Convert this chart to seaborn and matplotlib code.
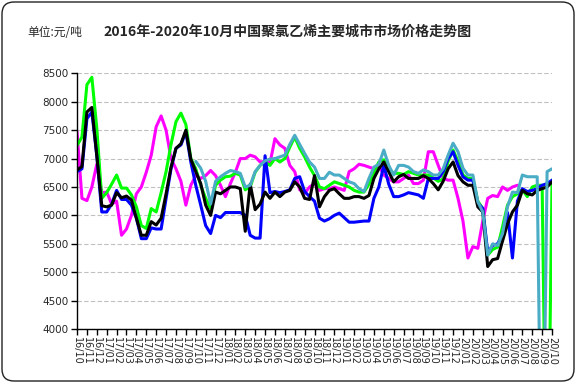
import numpy as np
import pandas as pd
import matplotlib
matplotlib.use("Agg")
import matplotlib.pyplot as plt
import seaborn as sns
from matplotlib.patches import FancyBboxPatch

nan = np.nan

# 横轴: 自2016/10起的月份, 每半个月一个点
months = np.arange(97) / 2

month_labels = [
    "16/10", "16/11", "16/12",
    "17/01", "17/02", "17/03", "17/04", "17/05", "17/06",
    "17/07", "17/08", "17/09", "17/10", "17/11", "17/12",
    "18/01", "18/02", "18/03", "18/04", "18/05", "18/06",
    "18/07", "18/08", "18/09", "18/10", "18/11", "18/12",
    "19/01", "19/02", "19/03", "19/04", "19/05", "19/06",
    "19/07", "19/08", "19/09", "19/10", "19/11", "19/12",
    "20/01", "20/02", "20/03", "20/04", "20/05", "20/06",
    "20/07", "20/08", "20/09", "20/10",
]

# 各城市价格 (元/吨)
green = [
    7230, 7380, 8300, 8430, 7530, 6300, 6400, 6550, 6710, 6480,
    6480, 6360, 6150, 5820, 5770, 6120, 6060, 6400, 6770, 7250,
    7650, 7800, 7600, 7000, 6820, 6530, 6300, 6120, 6530, 6620,
    6680, 6690, 6740, 6710, 6450, 6500, 6760, 6880, 6940, 6880,
    7000, 6940, 7000, 7200, 7380, 7180, 7030, 6850, 6700, 6500,
    6470, 6530, 6590, 6560, 6530, 6500, 6440, 6410, 6410, 6550,
    6760, 6940, 6980, 6820, 6740, 6740, 6720, 6770, 6740, 6710,
    6710, 6710, 6660, 6600, 6640, 6950, 7150, 6950, 6710, 6650,
    6650, 6250, 6120, 5300, 5400, 5440, 5800, 6180, 6330, 6380,
    6450, 6330, 6500, 6530, 6530, 0, 6620,
]

magenta = [
    7470, 6300, 6260, 6500, 6900, 6400, 6410, 6200, 6250, 5650,
    5760, 6000, 6380, 6500, 6760, 7060, 7560, 7750, 7500, 7000,
    6820, 6600, 6180, 6530, 6700, 6650, 6700, 6790, 6700, 6530,
    6330, 6560, 6760, 7000, 7000, 7060, 7030, 6940, 6950, 6920,
    7350, 7240, 7180, 6880, 6770, 6450, 6390, 6500, 6560, 6440,
    6470, 6470, 6500, 6470, 6440, 6770, 6820, 6900, 6880, 6850,
    6820, 6880, 6710, 6650, 6590, 6590, 6650, 6710, 6560, 6560,
    6620, 7120, 7120, 6880, 6650, 6620, 6620, 6300, 5900, 5250,
    5450, 5420, 5900, 6300, 6350, 6330, 6500, 6440, 6500, 6530,
    nan, nan, nan, nan, nan, nan, nan,
]

blue = [
    6770, 6820, 7700, 7820, 7050, 6060, 6060, 6200, 6440, 6280,
    6280, 6180, 5950, 5590, 5590, 5780, 5760, 5760, 6300, 6820,
    7180, 7240, 7470, 6940, 6530, 6180, 5820, 5680, 6000, 5960,
    6050, 6050, 6050, 6050, 6000, 5650, 5600, 5600, 7050, 6400,
    6420, 6400, 6420, 6450, 6650, 6680, 6420, 6330, 6250, 5950,
    5900, 5940, 6000, 6040, 5960, 5880, 5880, 5890, 5900, 5900,
    6300, 6500, 6880, 6550, 6330, 6330, 6360, 6400, 6380, 6360,
    6300, 6650, 6650, 6650, 6770, 7000, 7120, 6880, 6680, 6620,
    6620, 6220, 6120, 5350, 5470, 5500, 5650, 6050, 5250, 6250,
    6470, 6420, 6440, 6470, 6530, 6560, 6620,
]

black = [
    6800, 6860, 7820, 7900, 7050, 6170, 6150, 6180, 6400, 6310,
    6340, 6270, 5950, 5650, 5650, 5890, 5830, 5950, 6380, 6850,
    7180, 7260, 7500, 6990, 6770, 6560, 6180, 6000, 6410, 6380,
    6440, 6500, 6500, 6470, 5720, 6550, 6100, 6200, 6410, 6300,
    6410, 6330, 6410, 6440, 6590, 6500, 6300, 6280, 6700, 6150,
    6330, 6440, 6470, 6380, 6300, 6300, 6330, 6330, 6300, 6350,
    6650, 6820, 6940, 6770, 6590, 6680, 6720, 6650, 6650, 6650,
    6700, 6650, 6560, 6450, 6600, 6820, 6940, 6700, 6590, 6530,
    6530, 6150, 6060, 5100, 5220, 5240, 5550, 5850, 6060, 6180,
    6440, 6380, 6360, 6440, 6470, 6500, 6590,
]

teal = [nan] * 24 + [
    6950, 6830, 6600, 6200, 6600, 6680,
    6740, 6790, 6770, 6740, 6500, 6530, 6770, 6880, 6960, 6990,
    7000, 7030, 7060, 7250, 7410, 7250, 7090, 6940, 6850, 6650,
    6650, 6760, 6710, 6710, 6650, 6590, 6560, 6470, 6420, 6650,
    6850, 6900, 7150, 6880, 6710, 6880, 6880, 6850, 6770, 6740,
    6800, 6770, 6710, 6710, 6820, 7060, 7270, 7120, 6830, 6710,
    6710, 6240, 6060, 5300, 5500, 5470, 5680, 6150, 6410, 6400,
    6710, 6680, 6680, 6680, 0, 6770, 6820,
]

series_order = ["magenta", "green", "blue", "black", "teal"]
palette = {
    "magenta": "#FF00FF",
    "green": "#00FF00",
    "blue": "#0000FF",
    "black": "#000000",
    "teal": "#4BACC6",
}

df = pd.DataFrame({
    "month": months,
    "green": green,
    "magenta": magenta,
    "blue": blue,
    "black": black,
    "teal": teal,
})
df_long = df.melt(id_vars="month", var_name="series", value_name="price")

sns.set_theme(style="white")
plt.rcParams["font.family"] = ["DejaVu Sans", "Noto Sans CJK SC"]

fig = plt.figure(figsize=(5.76, 3.83), dpi=100)
ax = fig.add_axes([0.1337, 0.141, 0.8247, 0.6675])

sns.lineplot(
    data=df_long, x="month", y="price", hue="series",
    hue_order=series_order, palette=palette,
    linewidth=2.2, estimator=None, legend=False, ax=ax,
)

ax.set_xlim(0, 48)
ax.set_ylim(4000, 8500)
ax.set_yticks(np.arange(4000, 8501, 500))
ax.set_xticks(np.arange(len(month_labels)))
ax.set_xticklabels(month_labels, rotation=-90, fontsize=7)
ax.tick_params(axis="y", labelsize=7.5, length=4, width=1, direction="out",
               left=True, color="black", pad=2)
ax.tick_params(axis="x", length=4, width=1, direction="out", bottom=True,
               color="black", pad=2)
ax.set_xlabel("")
ax.set_ylabel("")

ax.yaxis.grid(True, linestyle=(0, (4, 2)), color="#C0C0C0", linewidth=0.8)
ax.xaxis.grid(False)
for side in ["top", "right"]:
    ax.spines[side].set_visible(False)
for side in ["left", "bottom"]:
    ax.spines[side].set_color("black")
    ax.spines[side].set_linewidth(1)

cjk = ["Noto Sans CJK SC", "DejaVu Sans"]
fig.text(0.5, 0.916, "2016年-2020年10月中国聚氯乙烯主要城市市场价格走势图",
         ha="center", va="center", fontsize=10.1, fontweight="bold", family=cjk)
fig.text(0.047, 0.914, "单位:元/吨", ha="left", va="center", fontsize=8.5,
         family=cjk)

# 圆角边框
border = FancyBboxPatch((0.02, 0.02), 5.72, 3.79,
                        boxstyle="round,pad=0,rounding_size=0.12",
                        transform=fig.dpi_scale_trans, fill=False,
                        edgecolor="#222222", linewidth=1)
fig.patches.append(border)

fig.savefig("out.png", dpi=100)
plt.close(fig)
